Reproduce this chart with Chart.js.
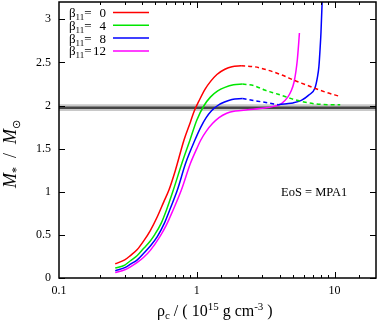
<!DOCTYPE html>
<html>
<head>
<meta charset="utf-8">
<script src="https://cdn.jsdelivr.net/npm/chart.js@4/dist/chart.umd.min.js"></script>
<style>
  body { margin: 0; background: #fff; }
</style>
</head>
<body>
<canvas id="massCh" width="379" height="322"></canvas>
<script>
// central density (10^15 g/cm^3) and mass (Msun)
const rhoRed = [0.256, 0.30, 0.33, 0.37, 0.412, 0.46, 0.517, 0.575, 0.628, 0.70, 0.808, 0.90, 0.956, 1.05, 1.15, 1.26, 1.40, 1.60, 1.80, 2.1]
const mRed   = [0.165, 0.21, 0.26, 0.33, 0.43, 0.55, 0.71, 0.88, 1.02, 1.25, 1.60, 1.81, 1.93, 2.07, 2.19, 2.28, 2.36, 2.42, 2.45, 2.46]
const rhoRedDash = [2.1, 2.6, 3.28, 4.2, 5.13, 6.2, 7.18, 8.8, 10.7]
const mRedDash   = [2.46, 2.45, 2.41, 2.35, 2.29, 2.24, 2.20, 2.15, 2.11]

const rhoGreen = [0.256, 0.30, 0.33, 0.37, 0.412, 0.46, 0.494, 0.55, 0.60, 0.676, 0.78, 0.893, 1.0, 1.13, 1.26, 1.42, 1.6, 1.85, 2.15]
const mGreen   = [0.115, 0.15, 0.20, 0.26, 0.344, 0.43, 0.50, 0.63, 0.78, 1.02, 1.33, 1.60, 1.83, 2.0, 2.10, 2.17, 2.21, 2.24, 2.25]
const rhoGreenDash = [2.15, 2.6, 3.1, 3.9, 4.85, 6.0, 7.2, 9.0, 11]
const mGreenDash   = [2.25, 2.23, 2.18, 2.13, 2.08, 2.04, 2.02, 2.01, 2.01]

const rhoBlue = [0.256, 0.30, 0.33, 0.37, 0.412, 0.46, 0.517, 0.58, 0.64, 0.723, 0.83, 0.97, 1.07, 1.17, 1.28, 1.42, 1.59, 1.80, 2.15]
const mBlue   = [0.085, 0.12, 0.16, 0.21, 0.286, 0.37, 0.48, 0.63, 0.80, 1.02, 1.33, 1.60, 1.75, 1.86, 1.94, 2.00, 2.04, 2.07, 2.08]
const rhoBlueDash = [2.15, 2.77, 3.3, 3.9]
const mBlueDash   = [2.08, 2.05, 2.03, 2.01]
const rhoBlue2 = [3.9, 4.5, 5.0, 5.74, 6.5, 7.2, 7.5, 7.7, 7.85, 7.97, 8.15]
const mBlue2   = [2.01, 2.02, 2.03, 2.06, 2.12, 2.20, 2.32, 2.45, 2.65, 2.84, 3.25]

const rhoMag = [0.256, 0.30, 0.33, 0.37, 0.412, 0.46, 0.54, 0.60, 0.67, 0.773, 0.90, 1.0, 1.07, 1.17, 1.3, 1.45, 1.65, 1.9, 2.34, 3.1, 3.6, 4.1, 4.59, 4.85, 5.08, 5.25, 5.37, 5.48, 5.56]
const mMag   = [0.062, 0.095, 0.13, 0.18, 0.24, 0.32, 0.48, 0.61, 0.78, 1.02, 1.33, 1.50, 1.60, 1.70, 1.79, 1.86, 1.91, 1.935, 1.95, 1.97, 1.99, 2.02, 2.10, 2.17, 2.27, 2.40, 2.53, 2.70, 2.84]

// observed 2 Msun pulsar band
const bandRho = [0.1, 20]
const bandLow = 1.935
const bandMid = 1.975
const bandHigh = 2.015

const betaLabels = ['0', '4', '8', '12']
const betaColors = ['rgb(255, 0, 0)', 'rgb(0, 230, 0)', 'rgb(0, 0, 255)', 'rgb(255, 0, 255)']

const xTicksMajor = [0.1, 1, 10]
const yTicks = [0, 0.5, 1, 1.5, 2, 2.5, 3]

function pts(xs, ys) {
    return xs.map((v, i) => ({x: v, y: ys[i]}))
}

function curve(xs, ys, color, dashed) {
    return {
        data: pts(xs, ys),
        borderColor: color,
        borderWidth: 1.5,
        borderDash: dashed ? [4, 3] : [],
        pointRadius: 0,
        fill: false,
        order: 0,
        cubicInterpolationMode: 'monotone'
    }
}

const serif = 'Liberation Serif, Times New Roman, serif'

function isMajor(v) {
    const l = Math.log10(v)
    return Math.abs(l - Math.round(l)) < 1e-9
}

// pieces: [text, size, dy, italic]
function drawRich(ctx, parts, x, y) {
    let cx = x
    parts.forEach(p => {
        ctx.font = (p[3] ? 'italic ' : '') + p[1] + 'px ' + serif
        ctx.fillText(p[0], cx, y + p[2])
        cx += ctx.measureText(p[0]).width
    })
    return cx
}

const decorations = {
    id: 'decorations',
    afterDraw(chart) {
        const ctx = chart.ctx
        const a = chart.chartArea
        const xs = chart.scales.x
        const ys = chart.scales.y
        ctx.save()
        ctx.strokeStyle = '#000'
        ctx.lineWidth = 1
        ctx.beginPath()
        xs.ticks.forEach(t => {
            if (t.value <= xs.min || t.value >= xs.max) return
            const px = Math.round(xs.getPixelForValue(t.value)) + 0.5
            const len = isMajor(t.value) ? 6 : 3
            ctx.moveTo(px, a.bottom); ctx.lineTo(px, a.bottom - len)
            ctx.moveTo(px, a.top); ctx.lineTo(px, a.top + len)
        })
        yTicks.forEach(v => {
            const py = Math.round(ys.getPixelForValue(v)) + 0.5
            ctx.moveTo(a.left, py); ctx.lineTo(a.left + 6, py)
            ctx.moveTo(a.right, py); ctx.lineTo(a.right - 6, py)
        })
        ctx.stroke()
        ctx.lineWidth = 1.5
        ctx.strokeRect(a.left, a.top, a.right - a.left, a.bottom - a.top)

        // legend
        ctx.fillStyle = '#000'
        ctx.textBaseline = 'alphabetic'
        betaLabels.forEach((b, i) => {
            const yc = 12.5 + i * 12.8
            const base = yc + 4.5
            ctx.textAlign = 'left'
            drawRich(ctx, [['β', 13, 0], ['11', 9, 3], ['=', 13, 0]], 69, base)
            ctx.font = '13px ' + serif
            ctx.textAlign = 'right'
            ctx.fillText(b, 106, base)
            ctx.textAlign = 'left'
            ctx.beginPath()
            ctx.strokeStyle = betaColors[i]
            ctx.lineWidth = 1.5
            ctx.moveTo(113, yc); ctx.lineTo(149, yc)
            ctx.stroke()
        })

        // EoS annotation
        ctx.font = '12.5px ' + serif
        ctx.fillText('EoS = MPA1', 281, 196)

        // x title
        drawRich(ctx, [
            ['ρ', 16, 0], ['c', 11, 3], [' / ( 10', 16, 0], ['15', 11, -6],
            [' g cm', 16, 0], ['-3', 11, -6], [' )', 16, 0]
        ], 157, 316)

        // y title
        ctx.translate(16, 188)
        ctx.rotate(-Math.PI / 2)
        drawRich(ctx, [['M', 18, 0, true], ['*', 12, 4], ['  /  ', 18, 0], ['M', 18, 0, true], ['⊙', 11, 4]], 0, 0)
        ctx.restore()
    }
}

const c = document.getElementById('massCh').getContext('2d')

const massChart = new Chart(c, {
    type: 'line',
    data: {
        datasets: [
            curve(rhoRed, mRed, betaColors[0], false),
            curve(rhoRedDash, mRedDash, betaColors[0], true),
            curve(rhoGreen, mGreen, betaColors[1], false),
            curve(rhoGreenDash, mGreenDash, betaColors[1], true),
            curve(rhoBlue, mBlue, betaColors[2], false),
            curve(rhoBlueDash, mBlueDash, betaColors[2], true),
            curve(rhoBlue2, mBlue2, betaColors[2], false),
            curve(rhoMag, mMag, betaColors[3], false),
            {data: pts(bandRho, [bandMid, bandMid]), borderColor: 'rgb(70, 70, 70)', borderWidth: 2.5, pointRadius: 0, fill: false, order: 5},
            {data: pts(bandRho, [bandLow, bandLow]), borderWidth: 0, pointRadius: 0, fill: false, order: 10},
            {data: pts(bandRho, [bandHigh, bandHigh]), borderWidth: 0, pointRadius: 0, fill: '-1', backgroundColor: 'rgb(200, 200, 200)', order: 10}
        ]
    },
    options: {
        responsive: false,
        animation: false,
        layout: {padding: {left: 0, right: 3, top: 2, bottom: 0}},
        plugins: {
            legend: {display: false},
            tooltip: {enabled: false}
        },
        scales: {
            x: {
                type: 'logarithmic',
                min: 0.1,
                max: 20,
                afterFit: s => { s.height = 44; s.paddingLeft = 0; s.paddingRight = 0 },
                grid: {display: false, drawTicks: false},
                border: {display: false},
                ticks: {
                    autoSkip: false,
                    maxRotation: 0,
                    padding: 6,
                    color: '#000',
                    font: {family: serif, size: 12},
                    callback: v => xTicksMajor.some(m => Math.abs(m - v) < 1e-9) ? String(v) : ''
                }
            },
            y: {
                min: 0,
                max: 3.2,
                afterFit: s => { s.width = 59; s.paddingTop = 0; s.paddingBottom = 0 },
                grid: {display: false, drawTicks: false},
                border: {display: false},
                ticks: {
                    stepSize: 0.5,
                    includeBounds: false,
                    padding: 8,
                    color: '#000',
                    font: {family: serif, size: 12},
                    callback: v => String(v)
                }
            }
        }
    },
    plugins: [decorations]
})
</script>
</body>
</html>
